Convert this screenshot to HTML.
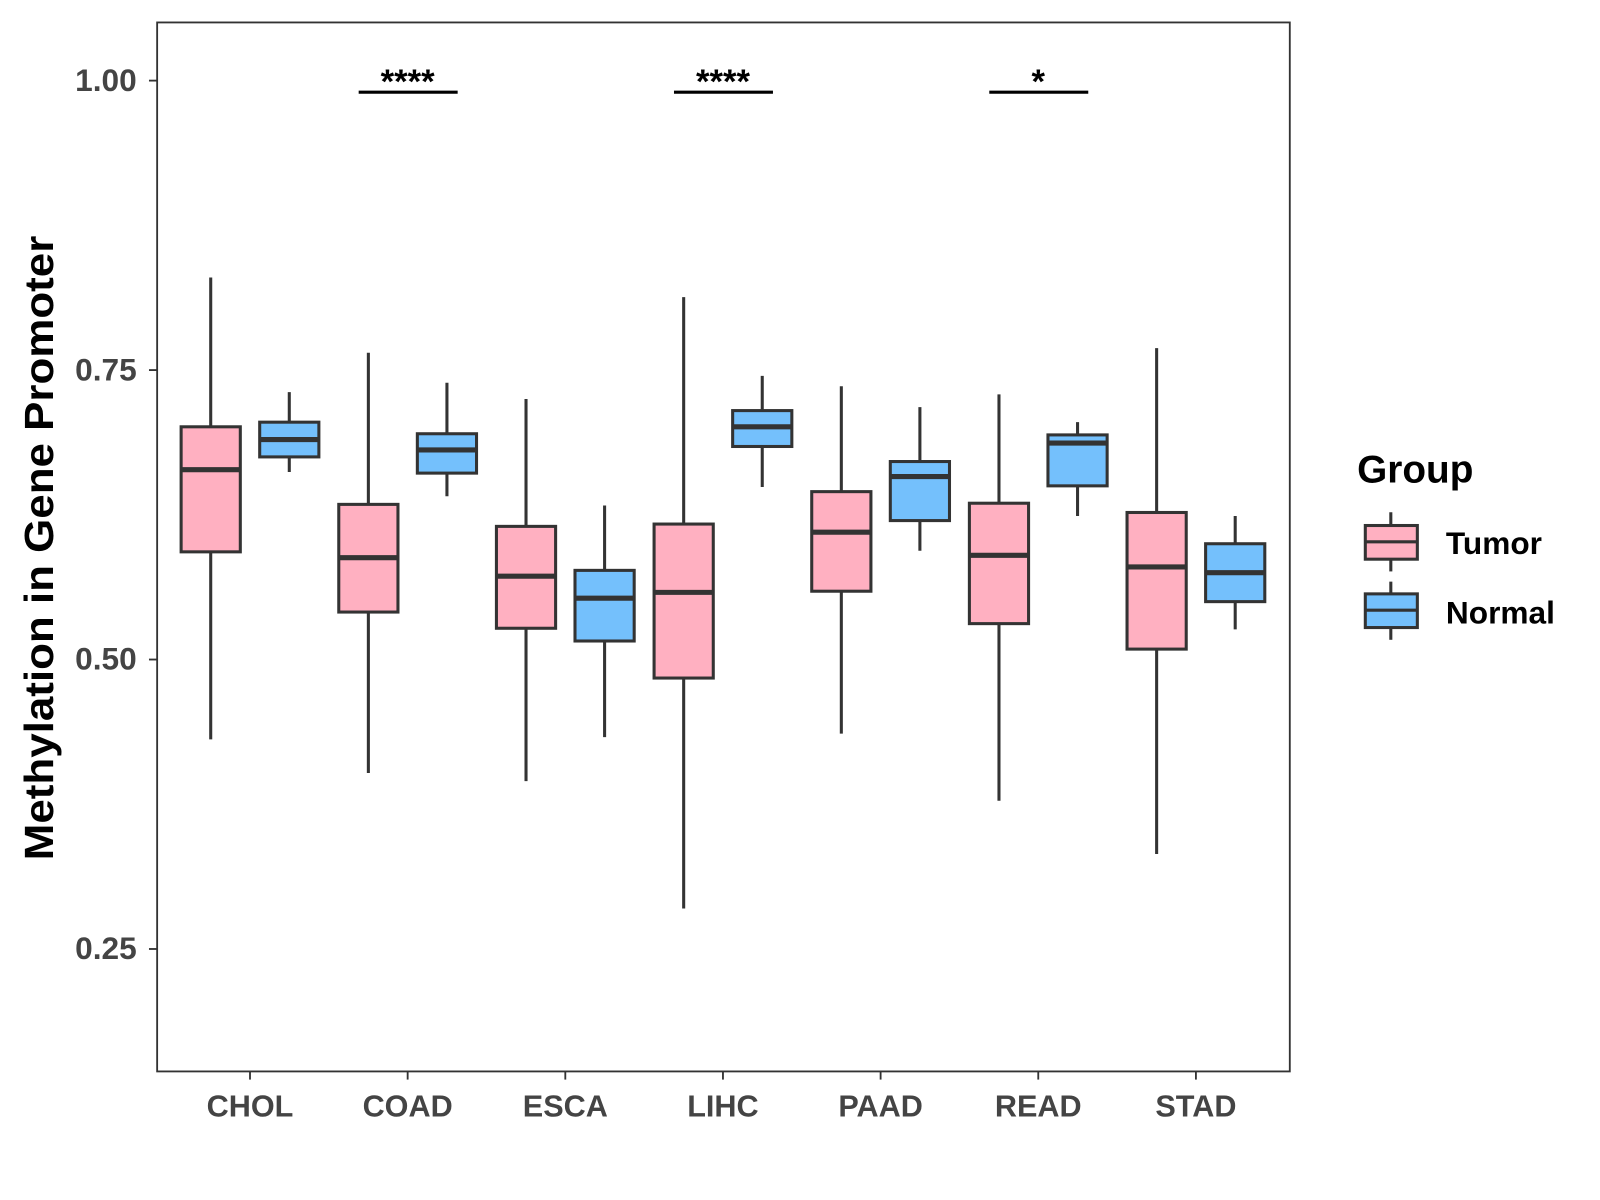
<!DOCTYPE html>
<html><head><meta charset="utf-8"><style>
html,body{margin:0;padding:0;background:#fff;}
svg{display:block;font-family:"Liberation Sans",Arial,sans-serif;}
</style></head><body>
<svg id="chart" width="1600" height="1200" viewBox="0 0 1568 1176" xmlns="http://www.w3.org/2000/svg">
<rect x="0" y="0" width="1568" height="1176" fill="#fff"/>
<g id="plot"></g>
<rect x="154" y="22" width="1110" height="1028" fill="none" stroke="#333" stroke-width="1.8"/>
<text transform="translate(52,537) rotate(-90)" text-anchor="middle" font-size="40" font-weight="bold" fill="#000" textLength="612" lengthAdjust="spacingAndGlyphs">Methylation in Gene Promoter</text>
<g>
<text x="1330" y="473" font-size="38" font-weight="bold" fill="#000">Group</text>
<g>
<line x1="1363" y1="502" x2="1363" y2="514" stroke="#333" stroke-width="3"/>
<line x1="1363" y1="548" x2="1363" y2="560" stroke="#333" stroke-width="3"/>
<rect x="1338" y="515" width="51" height="33" fill="#FFB0C1" stroke="#333" stroke-width="3"/>
<line x1="1338" y1="531" x2="1389" y2="531" stroke="#333" stroke-width="3"/>
<text x="1417" y="543" font-size="31" font-weight="bold" fill="#000">Tumor</text>
</g>
<g>
<line x1="1363" y1="570" x2="1363" y2="582" stroke="#333" stroke-width="3"/>
<line x1="1363" y1="615" x2="1363" y2="627" stroke="#333" stroke-width="3"/>
<rect x="1338" y="582" width="51" height="33" fill="#74C0FC" stroke="#333" stroke-width="3"/>
<line x1="1338" y1="598" x2="1389" y2="598" stroke="#333" stroke-width="3"/>
<text x="1417" y="611" font-size="31" font-weight="bold" fill="#000">Normal</text>
</g>
</g>
</svg>
<script>
const categories = ["CHOL","COAD","ESCA","LIHC","PAAD","READ","STAD"];
// [lowWhisker, Q1, median, Q3, highWhisker]
const tumorStats = [
 [0.431,0.593,0.664,0.701,0.830],
 [0.402,0.541,0.588,0.634,0.765],
 [0.395,0.527,0.572,0.615,0.725],
 [0.285,0.484,0.558,0.617,0.813],
 [0.436,0.559,0.610,0.645,0.736],
 [0.378,0.531,0.590,0.635,0.729],
 [0.332,0.509,0.580,0.627,0.769]
];
const normalStats = [
 [0.662,0.675,0.690,0.705,0.731],
 [0.641,0.661,0.681,0.695,0.739],
 [0.433,0.516,0.553,0.577,0.633],
 [0.649,0.684,0.701,0.715,0.745],
 [0.594,0.620,0.658,0.671,0.718],
 [0.624,0.650,0.687,0.694,0.705],
 [0.526,0.550,0.575,0.600,0.624]
];
const yTicks = [0.25,0.50,0.75,1.00];
const yTickLabels = ["0.25","0.50","0.75","1.00"];
const sigCategories = ["COAD","LIHC","READ"];
const sigLabels = ["****","****","*"];
const sigLevel = [0.99,0.99,0.99];

const NS="http://www.w3.org/2000/svg";
const g=document.getElementById('plot');
function yScale(v){return 79+(1-v)*1134.67;}
function xScale(i){return 245+i*154.5;}
function mk(tag,attrs){const e=document.createElementNS(NS,tag);for(const k in attrs)e.setAttribute(k,attrs[k]);g.appendChild(e);return e;}

yTicks.forEach((t,i)=>{
 const y=yScale(t);
 const tk=mk('line',{x1:146,x2:154,y1:y,y2:y,stroke:'#333','stroke-width':1.8});
 
 
 const lb=mk('text',{x:134,y:y+10,'text-anchor':'end','font-size':31,'font-weight':'bold',fill:'#444'});
 lb.textContent=yTickLabels[i];
 
 
});
categories.forEach((c,i)=>{
 const x=xScale(i);
 const tk=mk('line',{x1:x,x2:x,y1:1050,y2:1058,stroke:'#333','stroke-width':1.8});
 
 
 const lb=mk('text',{x:x,y:1094,'text-anchor':'middle','font-size':30,'font-weight':'bold',fill:'#444'});
 lb.textContent=c;
 
 
});
function box(cx,s,fill,name){
 const w=58;
 const wl=mk('line',{x1:cx,x2:cx,y1:yScale(s[4]),y2:yScale(s[0]),stroke:'#333','stroke-width':3});
 
 
 const r=mk('rect',{x:cx-w/2,y:yScale(s[3]),width:w,height:yScale(s[1])-yScale(s[3]),fill:fill,stroke:'#333','stroke-width':3});
 
 
 const m=mk('line',{x1:cx-w/2,x2:cx+w/2,y1:yScale(s[2]),y2:yScale(s[2]),stroke:'#333','stroke-width':5});
 
 
}
categories.forEach((c,i)=>{
 box(xScale(i)-38.5,tumorStats[i],'#FFB0C1','tumor-'+c.toLowerCase());
 box(xScale(i)+38.5,normalStats[i],'#74C0FC','normal-'+c.toLowerCase());
});
sigCategories.forEach((c,k)=>{
 const i=categories.indexOf(c);
 const x=xScale(i), y=yScale(sigLevel[k]);
 const l=mk('line',{x1:x-48,x2:x+49,y1:y,y2:y,stroke:'#000','stroke-width':3});
 
 
 const t=mk('text',{x:x,y:y+1,'text-anchor':'middle','font-size':34,'font-weight':'bold',fill:'#000'});
 t.textContent=sigLabels[k];
 
 
});
</script>
</body></html>
